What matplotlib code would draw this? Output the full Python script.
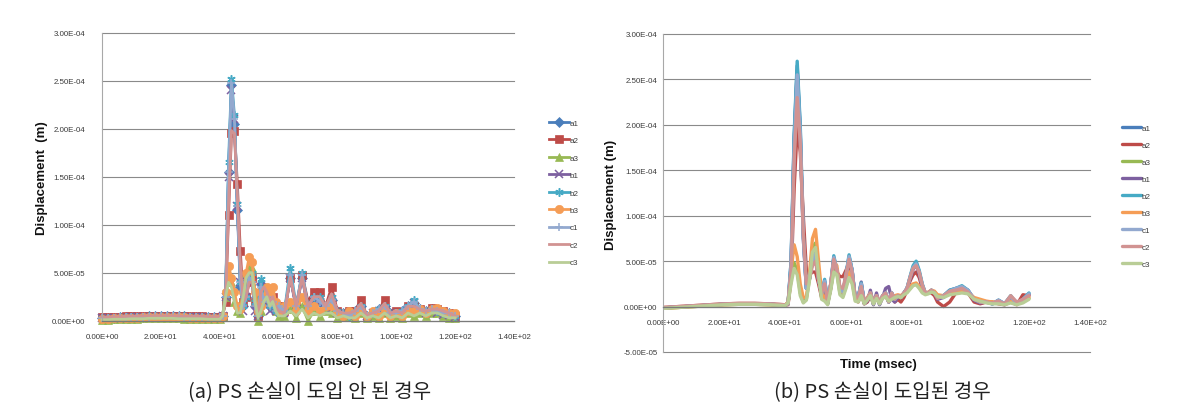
import numpy as np
import matplotlib
matplotlib.use('Agg')
import matplotlib.pyplot as plt
from matplotlib.ticker import FuncFormatter

# ---------------- data ----------------
series_names = ['a1', 'a2', 'a3', 'b1', 'b2', 'b3', 'c1', 'c2', 'c3']
series_colors = ['#4A7EBB', '#BE4B48', '#98B954', '#7D60A0', '#46AAC5',
                 '#F59D56', '#93A9CF', '#D19392', '#B9CD96']
series_markers = ['D', 's', '^', 'x', (6, 2, 0), 'o', '+', None, None]

x_ticks = [0, 20, 40, 60, 80, 100, 120, 140]
y_ticks_a = [0, 5e-5, 1e-4, 1.5e-4, 2e-4, 2.5e-4, 3e-4]
y_ticks_b = [-5e-5, 0, 5e-5, 1e-4, 1.5e-4, 2e-4, 2.5e-4, 3e-4]

# (a) time in msec, displacement in 1e-5 m
time_a = [0, 2, 4, 6, 8, 10, 12, 14, 16, 18, 20, 22, 24, 26, 28, 30, 32, 34, 36, 38, 40,
          41, 42, 43, 44, 45, 46, 47, 48, 49, 50, 51, 52, 53, 54, 55, 56, 57, 58, 59, 60,
          62, 64, 66, 68, 70, 72, 74, 76, 78, 80, 82, 84, 86, 88, 90, 92, 94, 96, 98, 100,
          102, 104, 106, 108, 110, 112, 114, 116, 118, 120]

a_a1 = [0.3, 0.3, 0.3, 0.35, 0.35, 0.4, 0.4, 0.4, 0.45, 0.45, 0.45, 0.45, 0.45, 0.45, 0.45, 0.4, 0.4, 0.4, 0.35, 0.35, 0.35,
        0.5, 2.5, 15.5, 24.5, 20.5, 11.5, 3.5, 1.5, 2.5, 4.5, 4.5, 1.5, 0.5, 3.8, 2.5, 2.5, 1.5, 2, 1, 1.5,
        1, 4.5, 1.5, 4.5, 1.5, 2.5, 2, 1.5, 2.2, 1, 0.8, 0.5, 1, 1.5, 0.5, 0.8, 1.2, 1.5, 0.8, 0.8,
        1, 1.5, 1.8, 1.2, 1, 1.2, 1, 0.8, 0.8, 0.5]
a_a2 = [0.35, 0.35, 0.4, 0.4, 0.45, 0.45, 0.5, 0.5, 0.5, 0.5, 0.5, 0.5, 0.5, 0.5, 0.5, 0.45, 0.45, 0.45, 0.4, 0.4, 0.4,
        0.5, 2, 11, 19.6, 19.8, 14.2, 7.3, 2, 2.5, 4, 4.5, 2, 0.5, 2.5, 3, 2.5, 2, 2.5, 1.5, 1.5,
        1, 4.5, 1.5, 4.8, 2, 3, 3, 1.5, 3.5, 1, 0.8, 1, 1, 2.2, 0.5, 0.8, 1, 2.2, 0.8, 1,
        0.8, 1.5, 1.5, 1.2, 1, 1.3, 1.2, 1, 0.8, 0.5]
a_a3 = [0.1, 0.1, 0.15, 0.15, 0.2, 0.2, 0.2, 0.25, 0.25, 0.25, 0.25, 0.25, 0.25, 0.25, 0.2, 0.2, 0.2, 0.2, 0.15, 0.15, 0.15,
        0.5, 2.5, 4.5, 4, 2, 1, 0.8, 2.5, 5, 5.5, 5.5, 2.5, 0, 1, 2, 2.5, 2, 2, 1, 0.5,
        0.5, 1.2, 0.3, 1.5, 0, 1, 0.5, 1, 0.8, 0.3, 0.5, 0.5, 0.3, 0.8, 0.3, 0.5, 0.3, 0.8, 0.3, 0.5,
        0.3, 0.8, 0.5, 0.8, 0.5, 0.8, 0.8, 0.5, 0.3, 0.3]
a_b1 = [0.25, 0.25, 0.3, 0.3, 0.3, 0.35, 0.35, 0.35, 0.4, 0.4, 0.4, 0.4, 0.4, 0.4, 0.4, 0.35, 0.35, 0.35, 0.3, 0.3, 0.3,
        0.5, 2.5, 15, 24, 21, 12, 4, 1, 2.5, 4.5, 4, 1, 0.5, 3.5, 2, 2.5, 1, 1.5, 1, 1.2,
        0.8, 4.5, 1.2, 4.5, 1.2, 2.2, 2, 1.2, 2, 0.8, 0.8, 0.5, 0.8, 1.2, 0.5, 0.8, 1, 1.2, 0.8, 0.6,
        0.8, 1.2, 1.8, 1, 0.8, 1, 0.8, 0.6, 0.6, 0.4]
a_b2 = [0.3, 0.3, 0.3, 0.35, 0.35, 0.4, 0.4, 0.4, 0.45, 0.45, 0.45, 0.45, 0.45, 0.45, 0.45, 0.4, 0.4, 0.4, 0.35, 0.35, 0.35,
        0.5, 3, 16.5, 25.2, 21.4, 12.2, 4, 1.5, 2.5, 4.5, 5, 2, 0.8, 4.3, 2.5, 3, 1.5, 2, 1, 1.5,
        1, 5.5, 1.5, 5, 1.5, 2.5, 2.5, 1.5, 2.5, 1, 0.8, 0.5, 1, 1.5, 0.5, 0.8, 1.2, 1.5, 0.8, 0.8,
        1, 1.5, 2.2, 1.2, 1, 1.2, 1, 0.8, 0.8, 0.5]
a_b3 = [0.2, 0.2, 0.25, 0.25, 0.3, 0.3, 0.3, 0.35, 0.35, 0.35, 0.35, 0.35, 0.35, 0.35, 0.35, 0.3, 0.3, 0.3, 0.25, 0.25, 0.25,
        0.5, 3, 5.7, 4.5, 3, 1.5, 1.2, 3, 5, 6.6, 6.1, 3, 1, 1.5, 2.5, 3.5, 3, 3.5, 2, 1,
        1.5, 2, 1, 2.5, 1, 1.5, 1, 1.5, 1.5, 0.8, 0.5, 1, 0.5, 1, 0.5, 1, 0.5, 1, 0.5, 0.8,
        0.5, 1, 1, 1.2, 0.8, 1.2, 1.3, 1, 0.8, 0.8]
a_c1 = [0.3, 0.3, 0.3, 0.35, 0.35, 0.4, 0.4, 0.4, 0.4, 0.45, 0.45, 0.45, 0.45, 0.45, 0.4, 0.4, 0.4, 0.4, 0.35, 0.35, 0.35,
        0.5, 2.5, 15.5, 24.8, 21, 12, 4, 1.5, 2.5, 4.5, 4, 1.5, 0.5, 3.5, 2, 2.5, 1.5, 2, 1, 1.5,
        1, 4.8, 1.5, 4.8, 1.5, 2.5, 2, 1.5, 2.2, 1, 0.8, 0.5, 1, 1.5, 0.5, 0.8, 1.2, 1.5, 0.8, 0.8,
        1, 1.5, 2, 1.2, 1, 1.2, 1, 0.8, 0.8, 0.5]
a_c2 = [0.35, 0.35, 0.4, 0.4, 0.45, 0.45, 0.45, 0.5, 0.5, 0.5, 0.5, 0.5, 0.5, 0.5, 0.45, 0.45, 0.45, 0.45, 0.4, 0.4, 0.4,
        0.5, 2, 12, 19.8, 19.5, 13, 6, 2, 2.5, 4, 4, 2, 0.5, 3, 3.5, 3, 2, 2.5, 1.5, 1,
        0.8, 4.5, 1.5, 4.5, 1.5, 2.5, 2.5, 1.5, 2.8, 1, 0.8, 0.8, 1, 1.8, 0.5, 0.8, 1, 1.8, 0.8, 1,
        0.8, 1.5, 1.5, 1.2, 1, 1.2, 1.2, 1, 0.8, 0.5]
a_c3 = [0.1, 0.1, 0.15, 0.15, 0.15, 0.2, 0.2, 0.2, 0.25, 0.25, 0.25, 0.25, 0.25, 0.2, 0.2, 0.2, 0.2, 0.2, 0.15, 0.15, 0.15,
        0.5, 2.5, 4, 3.5, 2, 0.8, 0.8, 2.5, 4.5, 5, 5, 2, 0.3, 1, 2, 2.5, 1.5, 2, 1, 0.5,
        0.5, 1, 0.5, 1.2, 0.3, 0.8, 0.5, 0.8, 0.8, 0.3, 0.5, 0.3, 0.3, 0.8, 0.3, 0.5, 0.3, 0.8, 0.3, 0.5,
        0.3, 0.8, 0.5, 0.8, 0.5, 0.8, 0.8, 0.5, 0.3, 0.3]

# (b) time in msec, displacement in 1e-5 m
time_b = [0, 5, 10, 15, 20, 25, 30, 35, 40,
          41, 42, 43, 44, 45, 46, 47, 48, 49, 50,
          51, 52, 53, 54, 55, 56, 57, 58, 59, 60,
          61, 62, 63, 64, 65, 66, 67, 68, 69, 70,
          71, 72, 73, 74, 75, 76, 77, 78, 79, 80,
          81, 82, 83, 84, 85, 86, 87, 88, 89, 90,
          92, 94, 96, 98, 100, 102, 104, 106, 108, 110, 112, 114, 116, 118, 120]

b_a1 = [-0.15, -0.05, 0.05, 0.15, 0.25, 0.3, 0.3, 0.25, 0.15,
        0.3, 5, 18.5, 26.5, 19.5, 8, 2, 3, 5, 5.8,
        3, 1.5, 2.8, 0.5, 2.5, 5.4, 4, 2, 1.5, 3.5,
        5.5, 4, 1, 1, 2.5, 0.5, 0.8, 1.5, 0.3, 1.2,
        0.3, 1.2, 1.5, 0.5, 1.5, 0.8, 1.2, 1, 1.5, 2,
        3.2, 4.3, 4.8, 3.8, 2.4, 1.5, 1.5, 1.8, 1.5, 1,
        1.2, 1.8, 2, 2.2, 1.8, 0.8, 0.5, 0.5, 0.3, 0.7, 0.3, 1.1, 0.3, 0.8, 1.4]
b_a2 = [-0.1, 0, 0.1, 0.2, 0.3, 0.35, 0.35, 0.3, 0.2,
        0.2, 3, 13, 19.7, 17, 10, 4, 3.5, 3.8, 3.8,
        2.5, 1, 2, 0.5, 2, 4.5, 3.8, 3.3, 3.3, 4,
        4.8, 3.5, 1, 0.5, 1.5, 0.3, 0.5, 1.2, 0.3, 1,
        0.3, 1, 1.2, 0.5, 1.2, 0.5, 0.8, 0.5, 1, 1.8,
        2.8, 3.5, 3.8, 3.2, 2, 1.5, 1.5, 1.5, 1.2, 0.5,
        0, 0.5, 1.5, 1.8, 1.5, 0.5, 0.3, 0.5, 0.5, 0.3, 0.2, 0.5, 0.2, 1.3, 1.2]
b_a3 = [-0.2, -0.1, 0, 0.1, 0.2, 0.25, 0.25, 0.2, 0.1,
        0.5, 3, 4.8, 4, 1.5, 0.5, 0.8, 3, 6.5, 7,
        4, 1, 0.8, 0.3, 2, 4, 3.8, 1.5, 1.2, 2.2,
        3.5, 2.8, 0.8, 0.6, 1.3, 0.4, 0.8, 1.3, 0.4, 1,
        0.4, 1, 1.2, 0.7, 0.9, 1.1, 1.2, 1.1, 1.4, 1.6,
        2, 2.4, 2.5, 2.1, 1.6, 1.4, 1.5, 1.7, 1.6, 1.2,
        1.1, 1.4, 1.5, 1.6, 1.5, 0.9, 0.7, 0.5, 0.4, 0.4, 0.3, 0.5, 0.3, 0.5, 0.9]
b_b1 = [-0.15, -0.05, 0.05, 0.15, 0.25, 0.3, 0.3, 0.25, 0.15,
        0.3, 4.5, 18, 26, 19, 7.5, 2, 3, 5, 5.5,
        3, 1.2, 2.5, 0.3, 2.2, 5.3, 4, 2, 1.5, 3.3,
        5.3, 4, 1, 1, 2.7, 0.3, 0.6, 1.8, 0.2, 1.5,
        0.2, 1, 2, 2.2, 0.8, 0.5, 1, 1, 1.5, 2,
        3, 4.1, 4.6, 3.6, 2.2, 1.4, 1.5, 1.8, 1.5, 0.8,
        1, 1.6, 1.9, 2.1, 1.7, 0.7, 0.4, 0.5, 0.3, 0.6, 0.2, 1, 0.3, 0.7, 1.3]
b_b2 = [-0.15, -0.05, 0.05, 0.15, 0.25, 0.3, 0.3, 0.25, 0.15,
        0.3, 5, 19, 27, 20, 8, 2, 3, 5, 6,
        3, 1.5, 3, 0.5, 2.5, 5.6, 4, 2, 1.5, 3.5,
        5.7, 4, 1, 1, 2.6, 0.5, 0.8, 1.5, 0.3, 1.2,
        0.3, 1.2, 1.5, 0.5, 1.5, 0.8, 1.2, 1, 1.5, 2,
        3.3, 4.5, 5, 4, 2.5, 1.5, 1.5, 1.8, 1.5, 1,
        1.2, 1.8, 2, 2.3, 1.8, 0.8, 0.5, 0.5, 0.3, 0.7, 0.3, 1.2, 0.3, 0.8, 1.5]
b_b3 = [-0.2, -0.1, 0, 0.1, 0.2, 0.25, 0.25, 0.2, 0.1,
        0.5, 4, 6.8, 5.5, 2.5, 1, 1, 3.5, 7.5, 8.5,
        5, 1.5, 1, 0.5, 2.5, 5, 4.5, 2, 1.5, 2.5,
        3.8, 3, 1, 0.8, 1.5, 0.5, 1, 1.5, 0.5, 1.2,
        0.5, 1.2, 1.3, 0.8, 1, 1.2, 1.3, 1.2, 1.5, 1.8,
        2.2, 2.5, 2.6, 2.2, 1.7, 1.5, 1.6, 1.8, 1.7, 1.3,
        1.2, 1.5, 1.6, 1.7, 1.6, 1, 0.8, 0.6, 0.5, 0.5, 0.3, 0.6, 0.4, 0.6, 1]
b_c1 = [-0.15, -0.05, 0.05, 0.15, 0.25, 0.3, 0.3, 0.25, 0.15,
        0.3, 4.5, 17.5, 25.5, 19, 7.5, 2, 3, 5, 5.8,
        3, 1.4, 2.8, 0.5, 2.4, 5.4, 4, 2, 1.6, 3.4,
        5.5, 4, 1, 1, 2.5, 0.5, 0.8, 1.5, 0.3, 1.2,
        0.3, 1.2, 1.5, 0.5, 1.5, 0.8, 1.2, 1, 1.5, 2,
        3.2, 4.3, 4.7, 3.8, 2.4, 1.5, 1.5, 1.8, 1.5, 1,
        1.2, 1.7, 2, 2.2, 1.8, 0.8, 0.5, 0.5, 0.3, 0.7, 0.3, 1.1, 0.3, 0.8, 1.4]
b_c2 = [-0.1, 0, 0.1, 0.2, 0.3, 0.35, 0.35, 0.3, 0.2,
        0.3, 4, 16, 23, 18, 8, 2.5, 3, 4.5, 5,
        3, 1.5, 2.5, 0.5, 2.5, 5.2, 4, 2.2, 2, 3.5,
        5.2, 3.8, 1, 1, 2.2, 0.5, 0.8, 1.5, 0.3, 1.2,
        0.3, 1.2, 1.5, 0.5, 1.5, 0.8, 1.2, 1, 1.5, 2,
        3.2, 4.2, 4.5, 3.8, 2.4, 1.5, 1.5, 1.8, 1.5, 0.9,
        1.2, 1.7, 1.8, 2, 1.6, 0.8, 0.5, 0.5, 0.4, 0.6, 0.3, 1.2, 0.5, 0.8, 1.2]
b_c3 = [-0.2, -0.1, 0, 0.1, 0.2, 0.25, 0.25, 0.2, 0.1,
        0.4, 2.5, 4.2, 3.5, 1.2, 0.4, 0.7, 2.8, 6, 6.5,
        3.5, 0.8, 0.6, 0.2, 1.8, 3.8, 3.5, 1.3, 1, 2,
        3.2, 2.5, 0.6, 0.5, 1.2, 0.3, 0.7, 1.2, 0.3, 0.9,
        0.3, 0.9, 1.1, 0.6, 0.8, 1, 1.1, 1, 1.3, 1.5,
        1.9, 2.3, 2.4, 2, 1.5, 1.3, 1.4, 1.6, 1.5, 1.1,
        1, 1.3, 1.4, 1.5, 1.4, 0.8, 0.6, 0.4, 0.3, 0.3, 0.2, 0.4, 0.2, 0.4, 0.8]

series_a = [a_a1, a_a2, a_a3, a_b1, a_b2, a_b3, a_c1, a_c2, a_c3]
series_b = [b_a1, b_a2, b_a3, b_b1, b_b2, b_b3, b_c1, b_c2, b_c3]
UNIT = 1e-5  # values above are in units of 1e-5 m

caption_a = '(a) PS 손실이 도입 안 된 경우'
caption_b = '(b) PS 손실이 도입된 경우'

# ---------------- figure ----------------
W, H = 1190, 410
fig = plt.figure(figsize=(W / 100, H / 100), dpi=100)
fig.patch.set_facecolor('white')

tick_font = dict(family='Liberation Sans', size=5.7, color='#3a3a3a')
fmt = FuncFormatter(lambda v, p: f'{v:.2E}')
grid_c = '#8a8a8a'


def style_axes(ax, yticks, ypad):
    ax.set_xlim(0, 140)
    ax.set_ylim(yticks[0], yticks[-1])
    ax.set_xticks(x_ticks)
    ax.set_yticks(yticks)
    ax.xaxis.set_major_formatter(fmt)
    ax.yaxis.set_major_formatter(fmt)
    for s in ['top', 'right']:
        ax.spines[s].set_visible(False)
    ax.spines['left'].set_color('#a8a8a8')
    ax.spines['left'].set_linewidth(0.8)
    ax.spines['bottom'].set_color('#7a7a7a')
    ax.spines['bottom'].set_linewidth(0.9)
    ax.spines['bottom'].set_position(('data', 0))
    ax.tick_params(axis='both', length=0)
    ax.tick_params(axis='x', pad=9)
    ax.tick_params(axis='y', pad=ypad)
    for lab in ax.get_xticklabels() + ax.get_yticklabels():
        lab.set_fontfamily(tick_font['family'])
        lab.set_fontsize(tick_font['size'])
        lab.set_color(tick_font['color'])
    ax.set_axisbelow(True)
    ax.yaxis.grid(True, color=grid_c, linewidth=0.8)
    for gl in ax.get_ygridlines():
        gl.set_clip_on(False)


# ---- panel (a) ----
axA = fig.add_axes([102 / W, 1 - 321.7 / H, 412 / W, (321.7 - 33.7) / H])
style_axes(axA, y_ticks_a, 12)
handles_a = []
for name, col, mk, vals in zip(series_names, series_colors, series_markers, series_a):
    y = np.array(vals) * UNIT
    kw = dict(color=col, linewidth=2.0, clip_on=False, solid_joinstyle='round')
    if mk is not None:
        ms = 5.0 if mk == 'D' else 6.0
        mew = 1.1 if mk in ['x', '+', (6, 2, 0)] else 0.5
        kw.update(marker=mk, markersize=ms, markeredgewidth=mew,
                  markerfacecolor=col, markeredgecolor=col)
    ln, = axA.plot(time_a, y, label=name, **kw)
    handles_a.append(ln)

fig.legend(handles=handles_a, labels=series_names, loc='upper left',
           bbox_to_anchor=(549 / W, 1 - 120 / H), frameon=False,
           prop={'family': 'Liberation Sans', 'size': 5.8},
           handlelength=2.5, handletextpad=0.1, labelspacing=1.22,
           borderpad=0, borderaxespad=0, labelcolor='#3a3a3a')

# ---- panel (b) ----
axB = fig.add_axes([663 / W, 1 - 353 / H, 427 / W, (353 - 35) / H])
style_axes(axB, y_ticks_b, 4)
handles_b = []
for name, col, vals in zip(series_names, series_colors, series_b):
    y = np.array(vals) * UNIT
    ln, = axB.plot(time_b, y, color=col, linewidth=2.4, label=name,
                   solid_joinstyle='round', solid_capstyle='round')
    handles_b.append(ln)

fig.legend(handles=handles_b, labels=series_names, loc='upper left',
           bbox_to_anchor=(1122 / W, 1 - 125 / H), frameon=False,
           prop={'family': 'Liberation Sans', 'size': 5.8},
           handlelength=2.4, handletextpad=0.05, labelspacing=1.17,
           borderpad=0, borderaxespad=0, labelcolor='#3a3a3a')

# ---- axis titles ----
lab_font = dict(family='Liberation Sans', size=9.5, weight='bold', color='#111111')
fig.text(42 / W, 1 - 178 / H, 'Displacement  (m)', rotation=90,
         ha='center', va='center', **lab_font)
fig.text(323 / W, 1 - 362 / H, 'Time (msec)', ha='center', va='center', **lab_font)
fig.text(611 / W, 1 - 195 / H, 'Displacement (m)', rotation=90,
         ha='center', va='center', **lab_font)
fig.text(878 / W, 1 - 365 / H, 'Time (msec)', ha='center', va='center', **lab_font)

# ---- captions ----
cap_font = dict(family=['Noto Sans CJK KR', 'DejaVu Sans'], size=14.5,
                color='#222222', weight='light')
fig.text(310 / W, 1 - 393 / H, caption_a, ha='center', va='center', **cap_font)
fig.text(882 / W, 1 - 393 / H, caption_b, ha='center', va='center', **cap_font)

fig.savefig('out.png', dpi=100, facecolor='white')
